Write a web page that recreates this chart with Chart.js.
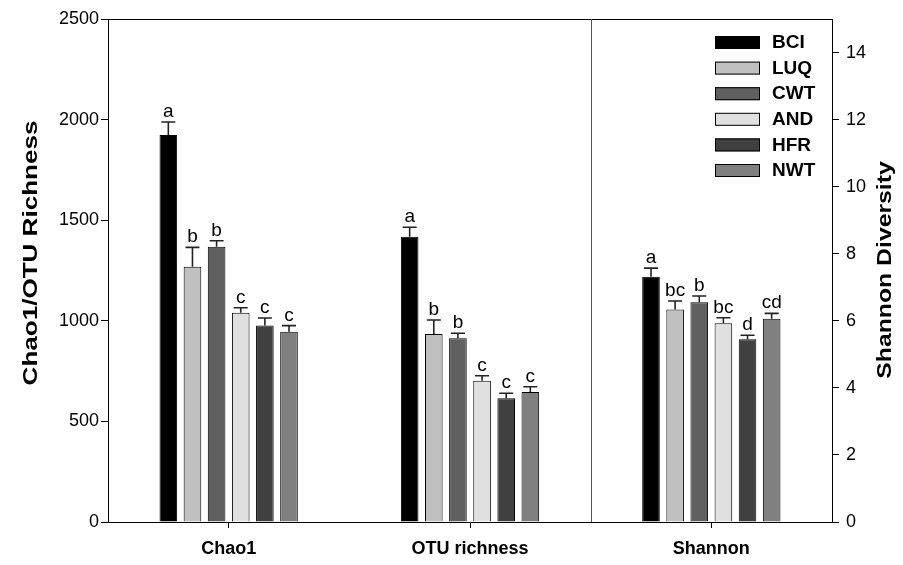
<!DOCTYPE html>
<html>
<head>
<meta charset="utf-8">
<script src="https://cdn.jsdelivr.net/npm/chart.js@4.4.0/dist/chart.umd.min.js"></script>
<style>
  body { margin: 0; background: #fff; }
  #wrap { width: 903px; height: 565px; }
</style>
</head>
<body>
<div id="wrap"><canvas id="myChart"></canvas></div>
<script>
const categories = ['Chao1', 'OTU richness', 'Shannon']
const sites = ['BCI', 'LUQ', 'CWT', 'AND', 'HFR', 'NWT']
const siteColors = ['#000000', '#c0c0c0', '#606060', '#e0e0e0', '#404040', '#808080']

const chao1 = [1923, 1269, 1368, 1040, 977, 946]
const chao1Err = [65, 96, 30, 25, 37, 30]
const chao1Letters = ['a', 'b', 'b', 'c', 'c', 'c']

const otu = [1418, 934, 913, 702, 615, 646]
const otuErr = [47, 70, 25, 25, 25, 26]
const otuLetters = ['a', 'b', 'b', 'c', 'c', 'c']

const shannon = [7.31, 6.34, 6.55, 5.93, 5.45, 6.06]
const shannonErr = [0.26, 0.25, 0.19, 0.16, 0.12, 0.16]
const shannonLetters = ['a', 'bc', 'b', 'bc', 'd', 'cd']

const leftTicks = [0, 500, 1000, 1500, 2000, 2500]
const rightTicks = [0, 2, 4, 6, 8, 10, 12, 14]

const FONT = 'Arial, "Liberation Sans", sans-serif'

const datasets = []
// richness datasets on the left axis
sites.forEach((site, i) => {
    datasets.push({
        label: site,
        data: [chao1[i], otu[i], null],
        err: [chao1Err[i], otuErr[i], null],
        letters: [chao1Letters[i], otuLetters[i], null],
        yAxisID: 'y',
        backgroundColor: siteColors[i],
    })
})
// shannon datasets on the right axis
sites.forEach((site, i) => {
    datasets.push({
        label: site,
        data: [null, null, shannon[i]],
        err: [null, null, shannonErr[i]],
        letters: [null, null, shannonLetters[i]],
        yAxisID: 'y1',
        backgroundColor: siteColors[i],
    })
})
datasets.forEach((ds) => {
    ds.borderColor = '#000'
    ds.borderWidth = 1
    ds.categoryPercentage = 0.6
    ds.barPercentage = 0.73
    ds.skipNull = true
})

// rotated title, stretched a bit along its length like the original export
function verticalTitle(ctx, text, x, y, stretch) {
    ctx.save()
    ctx.translate(x, y)
    ctx.rotate(-Math.PI / 2)
    ctx.scale(stretch, 1)
    ctx.fillText(text, 0, 0)
    ctx.restore()
}

const extras = {
    id: 'extras',
    afterDatasetsDraw(chart) {
        const ctx = chart.ctx
        const area = chart.chartArea
        const x = chart.scales.x

        // frame top + separator
        ctx.save()
        ctx.strokeStyle = '#000'
        ctx.lineWidth = 1
        ctx.beginPath()
        ctx.moveTo(area.left, area.top + 0.5)
        ctx.lineTo(area.right, area.top + 0.5)
        ctx.stroke()
        const sep = Math.round((x.getPixelForValue(1) + x.getPixelForValue(2)) / 2) + 0.5
        ctx.strokeStyle = '#555'
        ctx.beginPath()
        ctx.moveTo(sep, area.top)
        ctx.lineTo(sep, area.bottom)
        ctx.stroke()

        // error bars and letters
        chart.data.datasets.forEach((ds, di) => {
            const meta = chart.getDatasetMeta(di)
            const ys = chart.scales[ds.yAxisID]
            ds.data.forEach((v, i) => {
                if (v === null) return
                const bar = meta.data[i]
                const top = ys.getPixelForValue(v)
                const cap = ys.getPixelForValue(v + ds.err[i])
                ctx.strokeStyle = '#222'
                ctx.lineWidth = 1.6
                ctx.beginPath()
                ctx.moveTo(bar.x, top)
                ctx.lineTo(bar.x, cap)
                ctx.moveTo(bar.x - 7, cap)
                ctx.lineTo(bar.x + 7, cap)
                ctx.stroke()
                ctx.fillStyle = '#000'
                ctx.font = '19px ' + FONT
                ctx.textAlign = 'center'
                ctx.textBaseline = 'alphabetic'
                ctx.fillText(ds.letters[i], bar.x, cap - 5)
            })
        })

        // legend
        ctx.textAlign = 'left'
        ctx.textBaseline = 'middle'
        ctx.font = 'bold 19px ' + FONT
        sites.forEach((site, i) => {
            const y = 36 + i * 25.6
            ctx.fillStyle = siteColors[i]
            ctx.fillRect(715, y, 45, 13)
            ctx.strokeStyle = '#000'
            ctx.lineWidth = 1
            ctx.strokeRect(715.5, y + 0.5, 44, 12)
            ctx.fillStyle = '#000'
            ctx.fillText(site, 772, y + 7)
        })

        // axis titles
        ctx.font = 'bold 21px ' + FONT
        ctx.textAlign = 'center'
        ctx.textBaseline = 'middle'
        verticalTitle(ctx, 'Chao1/OTU Richness', 31, 253, 1.24)
        verticalTitle(ctx, 'Shannon Diversity', 885, 270, 1.18)
        ctx.restore()
    },
}

const config = {
    type: 'bar',
    data: {
        labels: categories,
        datasets: datasets,
    },
    options: {
        responsive: true,
        maintainAspectRatio: false,
        animation: false,
        layout: { padding: { top: 19, left: 0, right: 0, bottom: 0 } },
        plugins: {
            legend: { display: false },
            tooltip: { enabled: false },
        },
        scales: {
            x: {
                offset: true,
                grid: { offset: false, drawOnChartArea: false, tickLength: 6, color: '#000' },
                border: { color: '#000' },
                ticks: { color: '#000', font: { family: FONT, size: 18, weight: 'bold' }, padding: 10 },
                afterFit: (s) => { s.height = 43 },
            },
            y: {
                position: 'left',
                min: 0,
                max: 2500,
                afterBuildTicks: (s) => { s.ticks = leftTicks.map((v) => ({ value: v })) },
                grid: { drawOnChartArea: false, tickLength: 7, color: '#000' },
                border: { color: '#000' },
                ticks: { color: '#000', font: { family: FONT, size: 18 }, padding: 2, callback: (v) => String(v) },
                afterFit: (s) => { s.width = 108 },
            },
            y1: {
                position: 'right',
                min: 0,
                max: 15,
                afterBuildTicks: (s) => { s.ticks = rightTicks.map((v) => ({ value: v })) },
                grid: { drawOnChartArea: false, tickLength: 7, color: '#000' },
                border: { color: '#000' },
                ticks: { color: '#000', font: { family: FONT, size: 18 }, padding: 7, callback: (v) => String(v) },
                afterFit: (s) => { s.width = 71 },
            },
        },
    },
    plugins: [extras],
}

const myChart = new Chart(document.getElementById('myChart'), config)
</script>
</body>
</html>
